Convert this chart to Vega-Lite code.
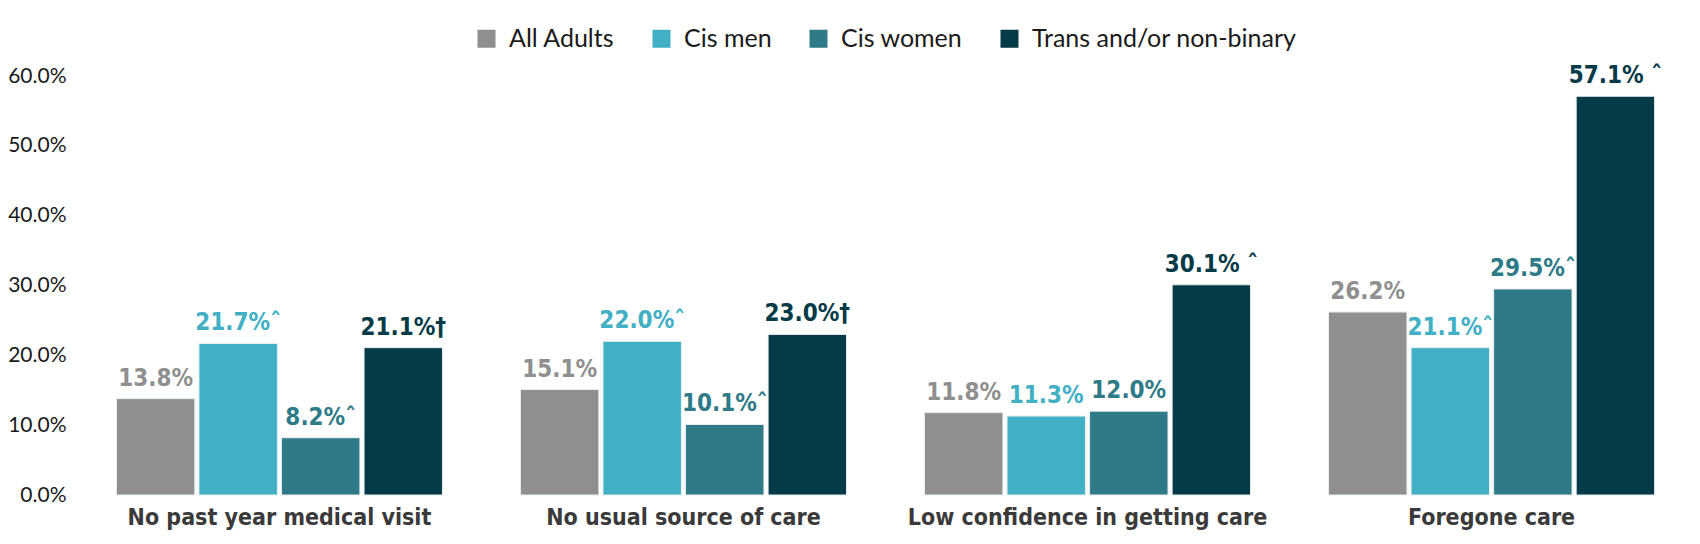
{
  "$schema": "https://vega.github.io/schema/vega-lite/v6.json",
  "autosize": {"type": "none"},
  "width": 1619,
  "height": 419,
  "padding": {"left": 76, "top": 76, "right": 5, "bottom": 49},
  "background": "white",
  "data": {"values": [
    {"category": "No past year medical visit", "group": "All Adults", "value": 13.8, "label": "13.8%"},
    {"category": "No past year medical visit", "group": "Cis men", "value": 21.7, "label": "21.7%ˆ"},
    {"category": "No past year medical visit", "group": "Cis women", "value": 8.2, "label": "8.2%ˆ"},
    {"category": "No past year medical visit", "group": "Trans and/or non-binary", "value": 21.1, "label": "21.1%†"},
    {"category": "No usual source of care", "group": "All Adults", "value": 15.1, "label": "15.1%"},
    {"category": "No usual source of care", "group": "Cis men", "value": 22.0, "label": "22.0%ˆ"},
    {"category": "No usual source of care", "group": "Cis women", "value": 10.1, "label": "10.1%ˆ"},
    {"category": "No usual source of care", "group": "Trans and/or non-binary", "value": 23.0, "label": "23.0%†"},
    {"category": "Low confidence in getting care", "group": "All Adults", "value": 11.8, "label": "11.8%"},
    {"category": "Low confidence in getting care", "group": "Cis men", "value": 11.3, "label": "11.3%"},
    {"category": "Low confidence in getting care", "group": "Cis women", "value": 12.0, "label": "12.0%"},
    {"category": "Low confidence in getting care", "group": "Trans and/or non-binary", "value": 30.1, "label": "30.1% ˆ"},
    {"category": "Foregone care", "group": "All Adults", "value": 26.2, "label": "26.2%"},
    {"category": "Foregone care", "group": "Cis men", "value": 21.1, "label": "21.1%ˆ"},
    {"category": "Foregone care", "group": "Cis women", "value": 29.5, "label": "29.5%ˆ"},
    {"category": "Foregone care", "group": "Trans and/or non-binary", "value": 57.1, "label": "57.1% ˆ"}
  ]},
  "encoding": {
    "x": {
      "field": "category", "type": "nominal", "sort": null,
      "scale": {"paddingInner": 0.193, "paddingOuter": 0.1},
      "axis": {
        "title": null, "labelAngle": 0, "ticks": false, "domain": false, "labelLimit": 0,
        "labelFont": "'DejaVu Sans Condensed', Roboto", "labelFontWeight": "bold",
        "labelFontSize": 23, "labelColor": "#3a3a3a", "labelPadding": 11
      }
    },
    "xOffset": {
      "field": "group", "type": "nominal",
      "sort": ["All Adults", "Cis men", "Cis women", "Trans and/or non-binary"],
      "scale": {"paddingInner": 0.05}
    },
    "y": {
      "field": "value", "type": "quantitative",
      "scale": {"domain": [0, 60], "nice": false},
      "axis": {
        "title": null, "values": [0, 10, 20, 30, 40, 50, 60], "grid": false,
        "domain": false, "ticks": false, "labelPadding": 10,
        "labelExpr": "format(datum.value, '.1f') + '%'",
        "labelFont": "Lato", "labelFontSize": 21, "labelColor": "#1a1a1a"
      }
    },
    "color": {
      "field": "group", "type": "nominal",
      "sort": ["All Adults", "Cis men", "Cis women", "Trans and/or non-binary"],
      "scale": {
        "domain": ["All Adults", "Cis men", "Cis women", "Trans and/or non-binary"],
        "range": ["#8f8f8f", "#41b0c4", "#2e7b87", "#043b47"]
      },
      "legend": {
        "title": null, "orient": "top", "direction": "horizontal",
        "symbolType": "square", "symbolSize": 324, "symbolStrokeWidth": 0,
        "labelFont": "Lato", "labelFontSize": 25, "labelColor": "#1a1a1a", "labelLimit": 0,
        "columnPadding": 34, "labelOffset": 10, "offset": 24
      }
    }
  },
  "layer": [
    {"mark": {"type": "bar", "stroke": "#e8eef0", "strokeWidth": 1}},
    {
      "mark": {"type": "text", "baseline": "bottom", "dy": -8,
               "font": "'DejaVu Sans Condensed', Roboto", "fontWeight": "bold", "fontSize": 24},
      "encoding": {"text": {"field": "label"}}
    }
  ],
  "config": {
    "view": {"stroke": null},
    "legend": {"layout": {"top": {"anchor": "middle"}}}
  }
}
